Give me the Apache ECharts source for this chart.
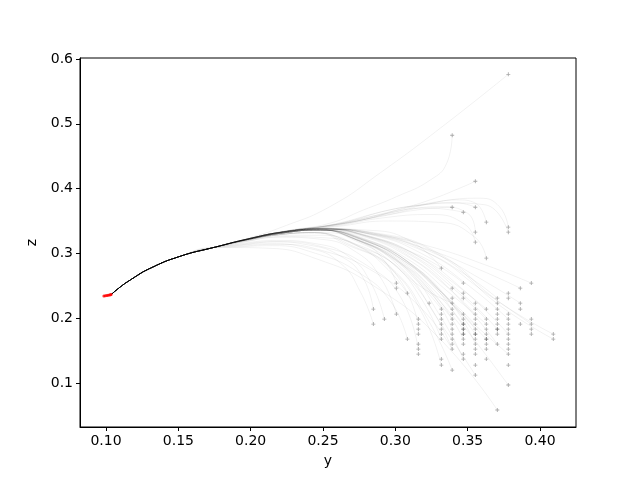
<!DOCTYPE html>
<html>
<head>
<meta charset="utf-8">
<script src="https://cdn.jsdelivr.net/npm/echarts@6/dist/echarts.min.js"></script>
<style>html,body{margin:0;padding:0;background:#fff}#c{width:640px;height:480px}</style>
</head>
<body>
<div id="c"></div>
<script>
// ---- data ----
const xTicks = [0.10, 0.15, 0.20, 0.25, 0.30, 0.35, 0.40];
const zTicks = [0.1, 0.2, 0.3, 0.4, 0.5, 0.6];

// shared early trunk of every trajectory
const trunk = [[0.1035,0.2365],[0.1097,0.2480],[0.1166,0.2588],[0.1304,0.2769],[0.1511,0.2955],[0.1740,0.3089]];

// bundle passes near the top of the arc
const bundleHigh = [[0.197,0.3218],[0.222,0.3330],[0.250,0.3378]];
const bundleMid  = [[0.197,0.3210],[0.222,0.3315],[0.248,0.3360]];
const bundleLow  = [[0.196,0.3200],[0.220,0.3290],[0.244,0.3320]];

// descents of the main family (after the bundle)
const mainHigh = [
  [[0.275,0.324],[0.302,0.292],[0.326,0.245],[0.3470,0.1910]],
  [[0.276,0.325],[0.305,0.293],[0.332,0.240],[0.3553,0.1755]],
  [[0.278,0.326],[0.308,0.296],[0.335,0.250],[0.3553,0.2064]],
  [[0.280,0.328],[0.312,0.300],[0.340,0.255],[0.3629,0.2141]],
  [[0.280,0.327],[0.313,0.296],[0.345,0.240],[0.3705,0.1832]],
  [[0.282,0.330],[0.318,0.305],[0.348,0.268],[0.3705,0.2310]],
  [[0.283,0.329],[0.318,0.300],[0.352,0.248],[0.3781,0.1987]],
  [[0.285,0.331],[0.322,0.305],[0.358,0.262],[0.3864,0.2233]],
  [[0.285,0.330],[0.325,0.298],[0.362,0.240],[0.3940,0.1910]],
  [[0.288,0.331],[0.330,0.300],[0.372,0.225],[0.4092,0.1755]],
  [[0.288,0.330],[0.330,0.298],[0.372,0.220],[0.4092,0.1678]],
  [[0.284,0.330],[0.325,0.310],[0.365,0.280],[0.3940,0.2542]],
  [[0.283,0.330],[0.320,0.308],[0.358,0.275],[0.3864,0.2464]],
  [[0.278,0.328],[0.308,0.305],[0.332,0.278],[0.3470,0.2542]],
  [[0.280,0.326],[0.312,0.292],[0.342,0.235],[0.3705,0.1601]],
  [[0.281,0.327],[0.315,0.297],[0.348,0.242],[0.3781,0.1755]],
  [[0.279,0.327],[0.310,0.298],[0.338,0.250],[0.3629,0.1987]]
];
const mainMid = [
  [[0.272,0.322],[0.296,0.295],[0.316,0.255],[0.3318,0.2141]],
  [[0.273,0.321],[0.300,0.290],[0.322,0.244],[0.3393,0.1987]],
  [[0.274,0.321],[0.301,0.289],[0.325,0.240],[0.3470,0.1832]],
  [[0.276,0.322],[0.306,0.288],[0.335,0.230],[0.3629,0.1678]],
  [[0.278,0.322],[0.310,0.285],[0.345,0.210],[0.3781,0.1447]],
  [[0.272,0.320],[0.298,0.285],[0.318,0.230],[0.3318,0.1678]],
  [[0.274,0.320],[0.302,0.282],[0.325,0.215],[0.3393,0.1524]],
  [[0.276,0.320],[0.306,0.280],[0.332,0.200],[0.3470,0.1370]],
  [[0.278,0.320],[0.315,0.275],[0.350,0.180],[0.3781,0.0969]],
  [[0.277,0.323],[0.308,0.292],[0.338,0.238],[0.3629,0.1910]],
  [[0.276,0.322],[0.305,0.290],[0.333,0.238],[0.3553,0.1910]],
  [[0.277,0.322],[0.308,0.288],[0.337,0.228],[0.3553,0.1601]],
  [[0.274,0.321],[0.303,0.288],[0.328,0.235],[0.3470,0.1678]],
  [[0.273,0.321],[0.300,0.291],[0.323,0.245],[0.3393,0.1832]],
  [[0.276,0.322],[0.306,0.289],[0.334,0.236],[0.3553,0.1832]]
];
const mainLow = [
  [[0.268,0.318],[0.295,0.290],[0.318,0.248],[0.3393,0.2233]],
  [[0.270,0.315],[0.303,0.275],[0.335,0.180],[0.3553,0.1123]],
  [[0.268,0.314],[0.298,0.276],[0.322,0.200],[0.3393,0.1200]],
  [[0.266,0.314],[0.295,0.280],[0.318,0.210],[0.3318,0.1277]]
];
// trajectories leaving the bundle early, passing underneath
const lowerBranches = [
  [[0.192,0.314],[0.215,0.318],[0.240,0.313],[0.262,0.296],[0.277,0.265],[0.2848,0.2141]],
  [[0.190,0.312],[0.212,0.315],[0.240,0.308],[0.262,0.285],[0.276,0.240],[0.2848,0.1910]],
  [[0.192,0.315],[0.218,0.320],[0.245,0.315],[0.268,0.295],[0.283,0.255],[0.2924,0.1987]],
  [[0.194,0.317],[0.220,0.325],[0.248,0.322],[0.273,0.302],[0.290,0.262],[0.3007,0.2064]],
  [[0.190,0.310],[0.215,0.312],[0.245,0.300],[0.275,0.270],[0.297,0.225],[0.3083,0.1678]],
  [[0.192,0.313],[0.220,0.318],[0.250,0.310],[0.280,0.282],[0.303,0.235],[0.3159,0.1524]],
  [[0.195,0.318],[0.222,0.326],[0.252,0.324],[0.280,0.305],[0.303,0.260],[0.3159,0.1910]],
  [[0.189,0.309],[0.212,0.308],[0.245,0.292],[0.285,0.250],[0.330,0.170],[0.3705,0.0584]],
  [[0.196,0.319],[0.222,0.328],[0.250,0.328],[0.275,0.310],[0.295,0.275],[0.3083,0.2387]],
  [[0.197,0.320],[0.222,0.330],[0.250,0.332],[0.276,0.318],[0.292,0.290],[0.3007,0.2542]],
  [[0.191,0.311],[0.218,0.314],[0.250,0.304],[0.285,0.272],[0.318,0.215],[0.3393,0.1524]]
];
// trajectories rising above the bundle
const upperBranches = [
  [[0.197,0.3225],[0.222,0.341],[0.2548,0.3722],[0.290,0.425],[0.335,0.500],[0.3781,0.5763]],
  [[0.197,0.3215],[0.225,0.335],[0.2548,0.3466],[0.2779,0.367],[0.301,0.3877],[0.324,0.413],[0.3355,0.439],[0.3393,0.4823]],
  [[0.197,0.3215],[0.224,0.334],[0.2533,0.343],[0.2779,0.3517],[0.301,0.367],[0.324,0.3826],[0.347,0.403],[0.3553,0.4114]],
  [[0.197,0.322],[0.223,0.334],[0.252,0.342],[0.285,0.355],[0.318,0.368],[0.3393,0.3713]],
  [[0.197,0.322],[0.223,0.334],[0.255,0.344],[0.2963,0.3672],[0.3193,0.3749],[0.342,0.378],[0.3553,0.3713]],
  [[0.197,0.322],[0.223,0.334],[0.255,0.343],[0.290,0.360],[0.322,0.370],[0.3470,0.3636]],
  [[0.197,0.322],[0.224,0.334],[0.2617,0.3466],[0.2963,0.3672],[0.3193,0.3749],[0.3424,0.3826],[0.355,0.378],[0.3629,0.3482]],
  [[0.197,0.322],[0.224,0.334],[0.262,0.346],[0.300,0.366],[0.330,0.380],[0.3585,0.3852],[0.372,0.372],[0.3781,0.3405]],
  [[0.197,0.322],[0.224,0.334],[0.262,0.345],[0.300,0.364],[0.335,0.378],[0.362,0.375],[0.3781,0.3328]],
  [[0.197,0.322],[0.223,0.333],[0.258,0.343],[0.295,0.360],[0.330,0.372],[0.350,0.362],[0.3553,0.3328]],
  [[0.197,0.322],[0.223,0.333],[0.258,0.342],[0.292,0.355],[0.325,0.360],[0.348,0.345],[0.3553,0.3174]],
  [[0.197,0.3215],[0.223,0.333],[0.258,0.341],[0.295,0.350],[0.330,0.348],[0.355,0.325],[0.3629,0.2927]],
  [[0.197,0.3215],[0.222,0.332],[0.252,0.338],[0.280,0.336],[0.310,0.320],[0.3318,0.2773]]
];

// end points of all trajectories (y, z); repeated entries are the darker markers
const endPoints = [
  [0.3781,0.5763],[0.3393,0.4823],[0.3553,0.4114],[0.3393,0.3713],[0.3553,0.3713],[0.3470,0.3636],
  [0.3629,0.3482],[0.3781,0.3405],[0.3781,0.3328],[0.3553,0.3328],[0.3553,0.3174],[0.3629,0.2927],[0.3318,0.2773],
  [0.3007,0.2542],[0.3470,0.2542],[0.3940,0.2542],
  [0.3007,0.2464],[0.3393,0.2464],[0.3864,0.2464],
  [0.3083,0.2387],[0.3470,0.2387],[0.3781,0.2387],
  [0.3393,0.2310],[0.3470,0.2310],[0.3705,0.2310],[0.3781,0.2310],
  [0.3234,0.2233],[0.3393,0.2233],[0.3553,0.2233],[0.3705,0.2233],[0.3864,0.2233],
  [0.2848,0.2141],[0.3318,0.2141],[0.3393,0.2141],[0.3553,0.2141],[0.3629,0.2141],[0.3705,0.2141],[0.3864,0.2141],
  [0.3007,0.2064],[0.3318,0.2064],[0.3393,0.2064],[0.3470,0.2064],[0.3553,0.2064],[0.3705,0.2064],[0.3781,0.2064],
  [0.2924,0.1987],[0.3159,0.1987],[0.3318,0.1987],[0.3393,0.1987],[0.3470,0.1987],[0.3553,0.1987],[0.3629,0.1987],[0.3705,0.1987],[0.3781,0.1987],[0.3940,0.1987],
  [0.2848,0.1910],[0.3159,0.1910],[0.3318,0.1910],[0.3393,0.1910],[0.3470,0.1910],[0.3470,0.1910],[0.3553,0.1910],[0.3629,0.1910],[0.3705,0.1910],[0.3781,0.1910],[0.3864,0.1910],[0.3940,0.1910],
  [0.3159,0.1832],[0.3318,0.1832],[0.3393,0.1832],[0.3470,0.1832],[0.3470,0.1832],[0.3553,0.1832],[0.3629,0.1832],[0.3705,0.1832],[0.3705,0.1832],[0.3781,0.1832],[0.3940,0.1832],
  [0.3159,0.1755],[0.3318,0.1755],[0.3393,0.1755],[0.3470,0.1755],[0.3470,0.1755],[0.3553,0.1755],[0.3553,0.1755],[0.3629,0.1755],[0.3705,0.1755],[0.3781,0.1755],[0.3940,0.1755],[0.4092,0.1755],
  [0.3083,0.1678],[0.3318,0.1678],[0.3393,0.1678],[0.3470,0.1678],[0.3553,0.1678],[0.3629,0.1678],[0.3629,0.1678],[0.3781,0.1678],[0.4092,0.1678],
  [0.3159,0.1601],[0.3393,0.1601],[0.3470,0.1601],[0.3553,0.1601],[0.3629,0.1601],[0.3705,0.1601],[0.3781,0.1601],
  [0.3159,0.1524],[0.3393,0.1524],[0.3553,0.1524],[0.3629,0.1524],[0.3781,0.1524],
  [0.3159,0.1447],[0.3470,0.1447],[0.3553,0.1447],[0.3781,0.1447],
  [0.3318,0.1370],[0.3470,0.1370],[0.3629,0.1370],
  [0.3318,0.1277],[0.3553,0.1277],[0.3781,0.1277],
  [0.3393,0.1200],[0.3553,0.1123],[0.3781,0.0969],[0.3705,0.0584]
];
// start points (red)
const startPoints = [[0.0985,0.2345],[0.0995,0.2348],[0.1005,0.2351],[0.1014,0.2354],[0.1023,0.2358],[0.1030,0.2362],[0.1035,0.2365]];

// ---- build the chart ----
const trajectories = [];
mainHigh.forEach(b => trajectories.push(trunk.concat(bundleHigh, b)));
mainMid.forEach(b => trajectories.push(trunk.concat(bundleMid, b)));
mainLow.forEach(b => trajectories.push(trunk.concat(bundleLow, b)));
lowerBranches.forEach(b => trajectories.push(trunk.concat(b)));
upperBranches.forEach(b => trajectories.push(trunk.concat(b)));

const lineSeries = trajectories.map(d => ({
  type: 'line', data: d, smooth: true, showSymbol: false, silent: true,
  lineStyle: { color: 'rgba(0,0,0,0.055)', width: 1 }, z: 1
}));

const font = 'DejaVu Sans';
const chart = echarts.init(document.getElementById('c'), null, { renderer: 'canvas' });
chart.setOption({
  animation: false,
  backgroundColor: '#fff',
  grid: { left: 80, right: 64, top: 58, bottom: 53, show: true, borderColor: '#000', borderWidth: 1, backgroundColor: 'transparent' },
  xAxis: {
    type: 'value', min: 0.082, max: 0.4249, name: 'y', nameLocation: 'middle', nameGap: 27,
    nameTextStyle: { fontFamily: font, fontSize: 14, color: '#000' },
    axisLine: { show: true, lineStyle: { color: '#000', width: 1 } },
    axisTick: { show: true, length: 4, lineStyle: { color: '#000' }, customValues: xTicks },
    axisLabel: { fontFamily: font, fontSize: 14, color: '#000', margin: 7, customValues: xTicks, formatter: v => v.toFixed(2) },
    splitLine: { show: false }
  },
  yAxis: {
    type: 'value', min: 0.0322, max: 0.6015, name: 'z', nameLocation: 'middle', nameGap: 40,
    nameTextStyle: { fontFamily: font, fontSize: 14, color: '#000' },
    axisLine: { show: true, lineStyle: { color: '#000', width: 1 } },
    axisTick: { show: true, length: 4, lineStyle: { color: '#000' }, customValues: zTicks },
    axisLabel: { fontFamily: font, fontSize: 14, color: '#000', margin: 7, customValues: zTicks, formatter: v => v.toFixed(1) },
    splitLine: { show: false }
  },
  series: lineSeries.concat([
    { type: 'scatter', data: endPoints, symbol: 'path://M-1,-0.22h2v0.44h-2zM-0.22,-1h0.44v2h-0.44z', symbolSize: 4,
      silent: true, itemStyle: { color: 'rgba(0,0,0,0.42)' }, z: 3 },
    { type: 'scatter', data: startPoints, symbol: 'circle', symbolSize: 3, silent: true,
      itemStyle: { color: '#ff0000' }, z: 4 }
  ])
});
</script>
</body>
</html>
